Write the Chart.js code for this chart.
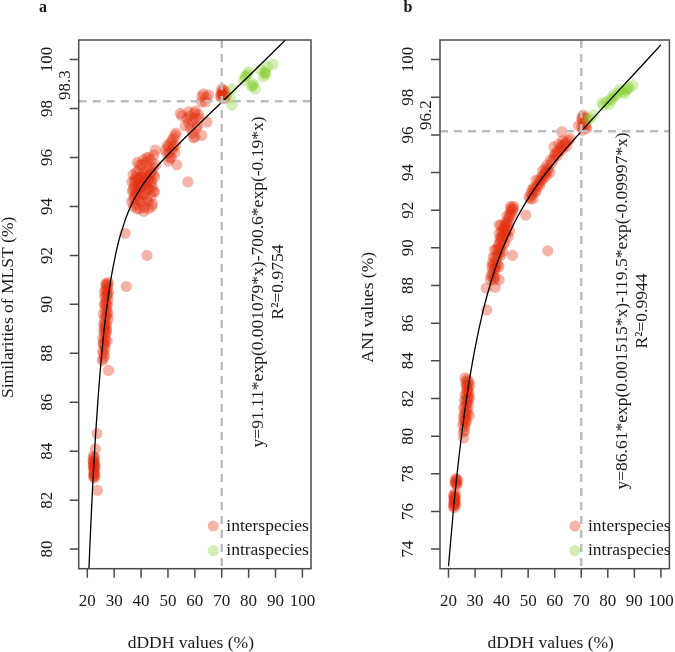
<!DOCTYPE html>
<html>
<head>
<meta charset="utf-8">
<script src="https://cdn.jsdelivr.net/npm/chart.js@4.4.1/dist/chart.umd.min.js"></script>
<style>
  body { margin: 0; background: #fff; }
  canvas { position: absolute; top: 0; }
  #ca { left: 0; }
  #cb { left: 337px; }
</style>
</head>
<body>
<canvas id="ca" width="337" height="652"></canvas>
<canvas id="cb" width="338" height="652"></canvas>
<script>
// ---- data ----
const xTicks = [20, 30, 40, 50, 60, 70, 80, 90, 100];
const aYTicks = [80, 82, 84, 86, 88, 90, 92, 94, 96, 98, 100];
const bYTicks = [74, 76, 78, 80, 82, 84, 86, 88, 90, 92, 94, 96, 98, 100];

// panel a: dDDH vs MLST similarity
const aInter = [
  [22.3,83.0],[22.5,83.2],[22.2,83.4],[22.6,83.5],[22.4,83.7],[22.7,83.1],[22.3,83.55],[22.5,83.35],
  [22.8,83.0],[22.2,83.8],[22.6,82.9],[22.9,83.4],[22.4,83.1],[22.6,83.6],[22.3,83.3],[22.7,83.75],
  [22.5,82.95],[22.4,83.45],[22.8,83.3],[22.1,83.6],
  [23.6,84.72],[23.0,84.1],[23.8,82.4],
  [25.6,87.7],[26.0,87.8],[26.4,87.9],[25.8,88.1],[26.6,88.2],[26.1,88.4],[25.7,88.6],[26.5,88.6],
  [26.9,88.8],[26.2,89.0],[26.7,89.1],[27.2,89.2],[26.4,89.4],[27.0,89.5],[27.6,89.6],[26.6,89.8],
  [27.3,89.9],[26.9,90.1],[27.7,90.2],[26.5,90.3],[27.2,90.4],[27.9,90.5],[26.8,90.6],[27.5,90.7],
  [27.0,90.85],[27.8,90.9],[26.3,90.0],[27.4,88.5],[27.8,89.4],[26.1,89.2],
  [26.0,88.0],[26.3,88.3],[26.8,88.5],[26.4,88.8],[27.1,89.0],[26.5,89.2],[26.9,89.6],[27.4,89.7],
  [26.7,90.0],[27.5,90.0],[27.0,90.3],[27.6,90.4],[26.9,90.8],[27.3,90.6],[26.2,88.9],[25.9,88.4],
  [27.2,88.9],[26.4,90.5],[27.7,90.8],[26.0,89.6],
  [27.9,87.3],[34.1,92.9],[42.2,92.0],[34.5,90.73],[57.4,95.0],
  [36.5,94.2],[36.8,94.6],[36.6,95.0],[37.0,95.3],[37.2,94.0],[37.5,94.4],[37.4,94.8],[37.8,95.1],
  [38.0,94.1],[38.2,94.6],[38.3,95.4],[38.6,95.8],[38.8,94.3],[39.0,94.9],[39.2,95.5],[39.5,93.9],
  [39.7,94.5],[39.9,95.2],[40.2,95.7],[40.4,94.2],[40.6,94.8],[40.9,95.4],[41.2,93.95],[41.4,94.6],
  [41.6,95.1],[41.8,95.8],[42.1,94.3],[42.3,95.0],[42.5,95.5],[42.2,96.0],[42.8,93.9],[43.0,94.7],
  [43.3,95.3],[43.6,95.9],[43.8,94.4],[44.0,95.0],[44.3,94.1],[44.5,95.6],[44.8,96.1],[44.6,94.6],
  [45.0,95.2],[45.5,95.7],[45.3,96.3],[41.0,93.8],[38.5,93.9],
  [37.0,94.7],[37.6,95.0],[38.1,95.2],[38.4,94.8],[38.9,95.1],[39.3,94.6],[39.6,95.0],[40.0,94.8],
  [40.3,95.2],[40.7,95.0],[41.0,94.5],[41.3,95.3],[41.8,94.9],[42.0,95.2],[42.4,94.7],[42.7,95.1],
  [43.1,95.6],[43.5,95.0],[43.9,95.4],[44.2,94.8],[44.6,95.3],[39.5,95.7],[40.8,95.9],[42.9,96.0],
  [38.0,94.5],[40.0,94.2],[42.6,94.2],[43.9,94.0],[37.4,94.3],[45.0,94.6],
  [52.7,96.9],[51.5,96.7],[52.1,96.44],[50.2,96.44],[49.6,96.17],[50.8,95.98],[49.0,96.3],[53.3,95.7],
  [50.2,95.85],[51.0,96.6],[52.5,96.2],[53.0,97.0],[50.5,96.2],[51.5,96.3],[52.0,96.8],[51.2,96.0],
  [49.8,96.5],[52.8,96.5],
  [54.6,97.8],[57.7,97.86],[60.2,97.9],[57.1,97.6],[60.2,97.6],[61.4,97.75],[64.5,97.45],[58.3,97.2],
  [60.1,96.85],[59.5,96.8],[62.6,96.9],[56.4,97.3],[55.2,97.7],[59.0,97.5],[61.0,97.3],
  [58.0,97.7],[59.8,97.8],[60.6,97.2],[57.8,97.4],[59.2,97.0],[61.5,97.6],
  [63.2,98.6],[62.6,98.5],[65.1,98.55],[63.9,98.27],[62.5,98.27],[64.2,98.45],
  [70.1,98.68],[70.3,98.55],[71.6,98.5],[71.0,98.4],[69.5,98.5],[70.6,98.75],[70.0,98.45],
  [70.4,98.6],[70.0,98.8],[70.9,98.6],[69.8,98.6],[71.2,98.7]
];
const aIntra = [
  [89.0,99.81],[86.2,99.5],[86.4,99.4],[84.3,99.6],[80.0,99.5],[78.7,99.3],[81.8,99.0],[81.2,98.9],
  [82.5,98.8],[78.1,99.15],[73.8,98.8],[73.8,98.14],[73.2,98.45],[87.0,99.7],[79.5,99.4],[85.5,99.3],
  [81.5,98.95],[86.0,99.45],[79.0,99.3]
];
const aFitX = [20,20.5,21,21.5,22,22.5,23,24,25,26,27,28,29,30,31,32,34,35,37,40,45,50,55,60,70,80,90,100];
const aFitY = [77.43,78.90,80.24,81.46,82.58,83.60,84.54,86.17,87.54,88.70,89.66,90.48,91.17,91.76,92.27,92.71,93.41,93.71,94.20,94.78,95.51,96.11,96.66,97.20,98.26,99.32,100.40,101.49];

// panel b: dDDH vs ANI
const bInter = [
  [21.8,76.3],[22.2,76.45],[22.0,76.6],[22.5,76.7],[21.9,76.85],[22.4,76.95],[22.7,76.4],[22.1,76.2],
  [22.6,76.8],[22.3,76.55],[22.0,76.4],[22.3,76.7],[22.5,76.5],[22.1,76.8],[22.4,76.3],
  [22.4,77.6],[23.0,77.5],[23.4,77.65],[22.8,77.75],[23.2,77.4],[22.8,77.55],[23.1,77.7],[22.6,77.45],
  [26.2,83.1],[27.0,83.0],[27.6,82.9],[26.6,82.7],[27.4,82.6],[28.0,82.7],[26.9,82.4],[27.7,82.3],
  [26.3,82.2],[27.2,82.0],[27.9,82.0],[26.0,81.9],[26.8,81.7],[27.5,81.6],[25.7,81.5],[26.4,81.3],
  [27.1,81.2],[25.6,81.0],[26.2,80.9],[26.9,80.8],[25.4,80.6],[26.0,80.3],[25.6,80.2],[25.7,79.9],[27.8,81.1],
  [26.5,82.9],[27.2,82.8],[26.9,82.6],[27.5,82.1],[26.6,81.9],[27.1,81.8],[26.3,81.6],[27.0,81.4],
  [26.6,81.1],[25.9,81.2],[26.4,80.7],[25.8,80.8],[26.8,82.2],[27.3,82.4],[26.1,80.5],
  [35.8,88.3],[36.5,88.6],[37.2,88.5],[36.3,89.0],[37.0,89.1],[37.8,88.9],[37.5,89.5],[38.2,89.4],
  [38.8,89.7],[38.0,89.9],[38.9,90.2],[39.6,90.0],[39.3,90.5],[40.1,90.4],[40.6,90.8],[40.0,90.9],
  [41.0,91.1],[41.5,90.7],[41.7,91.4],[42.3,91.2],[42.0,91.7],[42.8,91.6],[43.2,91.9],[43.6,92.1],
  [44.2,92.0],[44.6,92.2],[41.2,90.3],[42.5,90.6],[40.4,89.8],[39.0,89.0],[37.5,88.4],[43.0,90.9],
  [36.8,89.5],[39.8,91.2],
  [36.0,88.5],[36.8,88.8],[37.4,88.9],[37.9,89.2],[38.4,89.6],[38.6,90.0],[39.2,89.9],[39.5,90.3],
  [39.9,90.6],[40.3,90.6],[40.8,91.0],[41.3,91.2],[41.6,90.9],[42.0,91.3],[42.6,91.4],[43.0,91.7],
  [43.8,91.8],[44.4,92.1],[40.7,90.2],[38.5,89.1],[37.0,88.3],[41.9,90.9],[43.4,92.2],[39.7,89.6],[36.5,89.2],
  [39.1,91.22],[39.1,90.77],[44.1,89.6],[39.1,88.3],[34.2,87.86],[37.6,87.9],[34.4,86.7],[57.4,89.84],
  [49.1,91.74],[37.3,89.9],
  [50.3,92.7],[51.0,92.9],[51.5,93.07],[52.0,93.2],[52.6,93.0],[53.4,93.3],[54.0,93.6],[54.6,93.5],
  [55.2,93.8],[55.8,93.7],[56.5,94.0],[57.2,94.1],[58.2,94.0],[53.0,93.6],[51.8,92.6],[55.5,94.1],
  [50.8,92.6],[51.5,92.8],[52.3,93.1],[53.0,93.0],[53.8,93.4],[54.3,93.3],[55.0,93.6],[56.0,93.9],
  [56.8,93.8],[57.6,94.2],
  [58.4,94.66],[59.5,94.7],[60.3,95.0],[61.0,94.9],[62.1,95.28],[62.8,95.2],[63.9,95.55],[64.5,95.4],
  [65.8,95.81],[59.7,95.36],[61.5,95.5],[57.2,94.4],[56.5,94.22],[63.0,95.7],[62.7,96.16],
  [58.8,94.5],[59.9,94.9],[60.8,95.1],[61.6,95.1],[62.5,95.4],[63.4,95.4],[64.2,95.6],[65.2,95.7],
  [70.2,96.87],[71.4,96.6],[70.2,96.43],[72.0,96.34],[69.0,96.5],[70.8,97.05],[70.6,96.25],[71.6,96.9],
  [70.4,96.7],[71.0,96.5],[70.5,96.95],[71.8,96.45]
];
const bIntra = [
  [89.4,98.64],[86.9,98.37],[86.3,98.2],[82.6,98.02],[81.4,97.84],[79.5,97.75],[78.3,97.57],[82.0,98.1],
  [84.5,98.4],[73.3,96.87],[74.5,97.05],[72.4,96.8],[88.0,98.5],[80.5,97.6],[83.5,98.2],[77.8,97.7],
  [85.5,98.3],[81.0,97.9],[87.5,98.45]
];
const bFitX = [20,22,24,26,28,30,33,36,40,45,50,55,60,65,70,80,90,100];
const bFitY = [73.09,76.30,78.97,81.21,83.09,84.68,86.64,88.20,89.83,91.39,92.62,93.65,94.55,95.39,96.19,97.73,99.25,100.78];

const seriesNames = ['interspecies', 'intraspecies'];

// ---- drawing ----
const serif = '"Liberation Serif", "Times New Roman", serif';
const interCol = 'rgba(226,46,14,0.36)';
const intraCol = 'rgba(128,204,40,0.34)';

const toPts = arr => arr.map(p => ({x: p[0], y: p[1]}));
const fitPts = (xs, ys) => xs.map((v, i) => ({x: v, y: ys[i]}));

function rotText(ctx, txt, x, y) {
  ctx.save();
  ctx.translate(x, y);
  ctx.rotate(-Math.PI / 2);
  ctx.fillText(txt, 0, 0);
  ctx.restore();
}

function decor(p) {
  return {
    id: 'rdecor',
    afterDatasetsDraw(chart) {
      const {ctx, chartArea: a, scales: {x, y}} = chart;
      ctx.save();
      // cutoff lines
      ctx.strokeStyle = '#bdbdbd';
      ctx.lineWidth = 2.5;
      ctx.setLineDash([8, 6]);
      const cx = x.getPixelForValue(p.cutX), cy = y.getPixelForValue(p.cutY);
      ctx.beginPath();
      ctx.moveTo(cx, a.top); ctx.lineTo(cx, a.bottom);
      ctx.moveTo(a.left, cy); ctx.lineTo(a.right, cy);
      ctx.stroke();
      ctx.setLineDash([]);

      // box + ticks
      ctx.strokeStyle = '#4a4a4a';
      ctx.lineWidth = 1.5;
      ctx.strokeRect(a.left, a.top, a.right - a.left, a.bottom - a.top);
      ctx.fillStyle = '#1a1a1a';
      ctx.font = '17px ' + serif;
      ctx.textAlign = 'center';
      ctx.textBaseline = 'middle';
      ctx.beginPath();
      xTicks.forEach(v => {
        const px = x.getPixelForValue(v);
        ctx.moveTo(px, a.bottom); ctx.lineTo(px, a.bottom + 9);
      });
      p.yTicks.forEach(v => {
        const py = y.getPixelForValue(v);
        ctx.moveTo(a.left, py); ctx.lineTo(a.left - 9, py);
      });
      ctx.stroke();
      xTicks.forEach(v => ctx.fillText(String(v), x.getPixelForValue(v), a.bottom + 33));
      p.yTicks.forEach(v => rotText(ctx, String(v), a.left - 31, y.getPixelForValue(v)));
      rotText(ctx, String(p.cutY), a.left - 13, cy - 16);

      // axis titles
      ctx.font = '17.5px ' + serif;
      ctx.fillText('dDDH values (%)', (a.left + a.right) / 2 - 4, 643);
      rotText(ctx, p.yTitle, p.yTitleX, (a.top + a.bottom) / 2 + 3);

      // panel letter
      ctx.font = 'bold 16px ' + serif;
      ctx.fillText(p.letter, p.letterX, 8);

      // equation
      ctx.font = '17.5px ' + serif;
      rotText(ctx, p.eq, p.eqX, p.eqY);
      rotText(ctx, p.r2, p.eqX + 20, p.eqY);

      // legend
      ctx.textAlign = 'left';
      [interCol, intraCol].forEach((c, i) => {
        const ly = 526 + i * 24.7;
        ctx.fillStyle = c;
        ctx.beginPath();
        ctx.arc(p.legX, ly, 5.6, 0, Math.PI * 2);
        ctx.fill();
        ctx.fillStyle = '#1a1a1a';
        ctx.fillText(seriesNames[i], p.legX + 13, ly);
      });
      ctx.restore();
    }
  };
}

function makePanel(id, inter, intra, fx, fy, yMin, yMax, pad, p) {
  new Chart(document.getElementById(id), {
    type: 'scatter',
    data: {
      datasets: [
        {type: 'line', data: fitPts(fx, fy), showLine: true, borderColor: '#000', borderWidth: 1.3,
         pointRadius: 0, cubicInterpolationMode: 'monotone', fill: false},
        {label: seriesNames[1], data: toPts(intra), backgroundColor: intraCol, borderWidth: 0, pointRadius: 5.6},
        {label: seriesNames[0], data: toPts(inter), backgroundColor: interCol, borderWidth: 0, pointRadius: 5.6}
      ]
    },
    options: {
      responsive: false,
      animation: false,
      events: [],
      layout: {padding: pad},
      plugins: {legend: {display: false}, tooltip: {enabled: false}},
      scales: {
        x: {type: 'linear', min: 16.8, max: 103.2, display: false},
        y: {type: 'linear', min: yMin, max: yMax, display: false}
      }
    },
    plugins: [decor(p)]
  });
}

makePanel('ca', aInter, aIntra, aFitX, aFitY, 79.2, 100.8,
  {left: 78.7, right: 26, top: 40, bottom: 83.3},
  {cutX: 70, cutY: 98.3, yTicks: aYTicks, yTitle: 'Similarities of MLST (%)', yTitleX: 8,
   letter: 'a', letterX: 43, eq: 'y=91.11*exp(0.001079*x)-700.6*exp(-0.19*x)', r2: 'R\u00B2=0.9754',
   eqX: 258, eqY: 282, legX: 213.3});

makePanel('cb', bInter, bIntra, bFitX, bFitY, 72.96, 101.04,
  {left: 103, right: 2.3, top: 40, bottom: 83.3},
  {cutX: 70, cutY: 96.2, yTicks: bYTicks, yTitle: 'ANI values (%)', yTitleX: 31,
   letter: 'b', letterX: 71, eq: 'y=86.61*exp(0.001515*x)-119.5*exp(-0.09997*x)', r2: 'R\u00B2=0.9944',
   eqX: 285, eqY: 311, legX: 238});
</script>
</body>
</html>
